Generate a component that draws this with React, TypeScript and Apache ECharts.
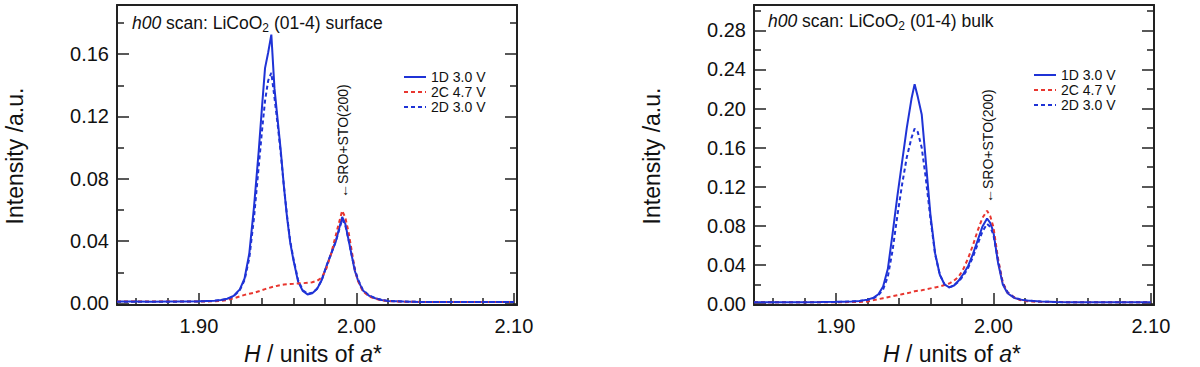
import React, { useEffect, useRef } from 'react';
import * as echarts from 'echarts';

const FONT = '"Liberation Sans", Arial, Helvetica, sans-serif';
const BLUE = '#1f33d6';
const RED = '#e8362f';
const AXIS = '#222';

const SERIES_NAMES = ['1D 3.0 V', '2C 4.7 V', '2D 3.0 V'];

// ---- surface scan (left panel) ----
const H_SURF = [
  1.848, 1.86, 1.87, 1.88, 1.89, 1.9, 1.905, 1.91, 1.914, 1.918,
  1.922, 1.926, 1.929, 1.932, 1.935, 1.938, 1.94, 1.942, 1.944, 1.946,
  1.948, 1.95, 1.952, 1.954, 1.956, 1.958, 1.96, 1.963, 1.966, 1.969,
  1.972, 1.975, 1.978, 1.981, 1.984, 1.987, 1.989, 1.991, 1.993, 1.995,
  1.997, 1.999, 2.001, 2.004, 2.008, 2.012, 2.016, 2.02, 2.03, 2.04,
  2.05, 2.06, 2.07, 2.08, 2.09, 2.1,
];
const SURF_1D = [
  0.0012, 0.0012, 0.0011, 0.0012, 0.0013, 0.0014, 0.0016, 0.0018, 0.0022, 0.003,
  0.0048, 0.009, 0.016, 0.032, 0.062, 0.098, 0.125, 0.151, 0.161, 0.1725,
  0.138, 0.118, 0.098, 0.075, 0.055, 0.039, 0.028, 0.014, 0.008, 0.0058,
  0.0065, 0.0092, 0.015, 0.024, 0.032, 0.04, 0.048, 0.0555, 0.051, 0.041,
  0.031, 0.021, 0.015, 0.0085, 0.005, 0.0033, 0.0022, 0.0016, 0.0012, 0.001,
  0.001, 0.0009, 0.0009, 0.0009, 0.0009, 0.0009,
];
const SURF_2C = [
  0.0012, 0.0012, 0.0012, 0.0012, 0.0012, 0.0012, 0.0013, 0.0014, 0.0016, 0.0022,
  0.0032, 0.0045, 0.0055, 0.0062, 0.0068, 0.0078, 0.0085, 0.0092, 0.0098, 0.0104,
  0.0109, 0.0114, 0.0118, 0.0121, 0.0123, 0.0125, 0.0126, 0.0128, 0.013, 0.0132,
  0.0136, 0.0145, 0.0165, 0.0225, 0.032, 0.044, 0.052, 0.0595, 0.055, 0.046,
  0.034, 0.022, 0.0145, 0.008, 0.0045, 0.003, 0.002, 0.0015, 0.0011, 0.001,
  0.0009, 0.0009, 0.0009, 0.0009, 0.0009, 0.0009,
];
const SURF_2D = [
  0.0011, 0.0011, 0.0011, 0.0011, 0.0012, 0.0013, 0.0015, 0.0017, 0.0021, 0.0029,
  0.0045, 0.0085, 0.015, 0.029, 0.055, 0.088, 0.11, 0.13, 0.143, 0.148,
  0.132, 0.115, 0.096, 0.075, 0.056, 0.04, 0.029, 0.015, 0.0085, 0.0062,
  0.0068, 0.0095, 0.015, 0.024, 0.032, 0.04, 0.047, 0.054, 0.05, 0.041,
  0.031, 0.022, 0.0155, 0.009, 0.0052, 0.0034, 0.0023, 0.0016, 0.0012, 0.001,
  0.001, 0.0009, 0.0009, 0.0009, 0.0009, 0.0009,
];

// ---- bulk scan (right panel) ----
const H_BULK = [
  1.848, 1.86, 1.87, 1.88, 1.89, 1.9, 1.905, 1.91, 1.915, 1.92,
  1.924, 1.927, 1.93, 1.933, 1.936, 1.939, 1.942, 1.945, 1.948, 1.95,
  1.952, 1.9545, 1.957, 1.96, 1.963, 1.966, 1.969, 1.972, 1.975, 1.978,
  1.981, 1.984, 1.987, 1.99, 1.993, 1.996, 1.998, 2.0, 2.003, 2.006,
  2.009, 2.013, 2.017, 2.021, 2.03, 2.04, 2.05, 2.06, 2.07, 2.08,
  2.09, 2.1,
];
const BULK_1D = [
  0.0018, 0.0018, 0.0018, 0.0019, 0.002, 0.0022, 0.0024, 0.0027, 0.0032, 0.0045,
  0.0065, 0.01, 0.018, 0.036, 0.072, 0.11, 0.145, 0.18, 0.21, 0.225,
  0.212, 0.194, 0.148, 0.092, 0.052, 0.03, 0.02, 0.017, 0.019, 0.024,
  0.031, 0.039, 0.051, 0.065, 0.079, 0.0875, 0.083, 0.074, 0.042, 0.02,
  0.011, 0.0065, 0.0045, 0.0035, 0.0025, 0.002, 0.0018, 0.0018, 0.0018, 0.0018,
  0.0018, 0.0018,
];
const BULK_2C = [
  0.0018, 0.0018, 0.0018, 0.0018, 0.0018, 0.0019, 0.0019, 0.002, 0.0021, 0.0025,
  0.004, 0.005, 0.006, 0.007, 0.008, 0.009, 0.01, 0.011, 0.012, 0.013,
  0.0135, 0.014, 0.015, 0.016, 0.017, 0.018, 0.0195, 0.021, 0.024, 0.028,
  0.036, 0.047, 0.06, 0.075, 0.088, 0.0955, 0.09, 0.079, 0.046, 0.022,
  0.012, 0.0072, 0.004, 0.0028, 0.0022, 0.002, 0.0019, 0.0018, 0.0018, 0.0018,
  0.0018, 0.0018,
];
const BULK_2D = [
  0.0017, 0.0017, 0.0017, 0.0018, 0.0019, 0.0021, 0.0023, 0.0026, 0.0031, 0.0042,
  0.006, 0.009, 0.015, 0.028, 0.055, 0.09, 0.122, 0.15, 0.17, 0.1795,
  0.176, 0.16, 0.13, 0.088, 0.051, 0.03, 0.02, 0.017, 0.019, 0.023,
  0.029, 0.037, 0.048, 0.061, 0.074, 0.082, 0.079, 0.071, 0.044, 0.021,
  0.012, 0.007, 0.0047, 0.0036, 0.0025, 0.002, 0.0018, 0.0017, 0.0017, 0.0017,
  0.0017, 0.0017,
];

const X_MIN = 1.848;
const X_MAX = 2.102;
const X_STEP = 0.1;
const Y_STEP = 0.04;
const Y_MIN = -0.001;
const Y_MAX_SURF = 0.1915;
const Y_MAX_BULK = 0.306;

const pairs = (h: number[], v: number[]) => h.map((x, i) => [x, v[i]]);

const onStep = (v: number, step: number) => Math.abs(v / step - Math.round(v / step)) < 1e-6;

function xAxes(gridIndex: number) {
  return [
    {
      gridIndex,
      type: 'value',
      position: 'bottom',
      min: X_MIN,
      max: X_MAX,
      minInterval: X_STEP,
      maxInterval: X_STEP,
      axisLine: { show: true, onZero: false, lineStyle: { color: AXIS, width: 2 } },
      axisTick: { show: true, inside: true, length: 12, lineStyle: { color: AXIS, width: 1.5 } },
      minorTick: { show: true, splitNumber: 5, length: 7, lineStyle: { color: AXIS, width: 1.5 } },
      splitLine: { show: false },
      minorSplitLine: { show: false },
      axisLabel: {
        fontSize: 20,
        color: '#111',
        fontFamily: FONT,
        margin: 11,
        formatter: (v: number) => (onStep(v, X_STEP) ? v.toFixed(2) : ''),
      },
    },
    {
      gridIndex,
      type: 'value',
      position: 'top',
      min: X_MIN,
      max: X_MAX,
      axisLine: { show: true, onZero: false, lineStyle: { color: AXIS, width: 2 } },
      axisTick: { show: false },
      axisLabel: { show: false },
      splitLine: { show: false },
    },
  ];
}

function yAxes(gridIndex: number, max: number) {
  const base = {
    gridIndex,
    type: 'value',
    min: Y_MIN,
    max,
    minInterval: Y_STEP,
    maxInterval: Y_STEP,
    axisLine: { show: true, onZero: false, lineStyle: { color: AXIS, width: 2 } },
    axisTick: { show: true, inside: true, length: 12, lineStyle: { color: AXIS, width: 1.5 } },
    minorTick: { show: true, splitNumber: 2, length: 7, lineStyle: { color: AXIS, width: 1.5 } },
    splitLine: { show: false },
    minorSplitLine: { show: false },
  };
  return [
    {
      ...base,
      position: 'left',
      axisLabel: {
        fontSize: 20,
        color: '#111',
        fontFamily: FONT,
        margin: 8,
        formatter: (v: number) => (onStep(v, Y_STEP) ? v.toFixed(2) : ''),
      },
    },
    { ...base, position: 'right', axisLabel: { show: false } },
  ];
}

function lineSeries(name: string, data: number[][], axisIdx: number, color: string, dashed: boolean) {
  return {
    name,
    type: 'line',
    xAxisIndex: axisIdx,
    yAxisIndex: axisIdx,
    data,
    symbol: 'none',
    showSymbol: false,
    lineStyle: { color, width: 2, type: dashed ? [4, 3] : 'solid' },
    itemStyle: { color },
    emphasis: { disabled: true },
  };
}

function legend(left: number, top: number) {
  return {
    left,
    top,
    orient: 'vertical',
    data: SERIES_NAMES,
    itemWidth: 22,
    itemHeight: 10,
    itemGap: 1,
    selectedMode: false,
    padding: 0,
    itemStyle: { opacity: 0 },
    textStyle: { fontSize: 14, color: '#111', fontFamily: FONT, lineHeight: 13 },
  };
}

function panelTexts(
  label: string,
  titleX: number,
  titleY: number,
  sroX: number,
  sroY: number,
  yTitleX: number,
  xTitleX: number
) {
  return [
    {
      type: 'text',
      x: titleX,
      y: titleY,
      style: {
        text: '{i|h00} scan: LiCoO{sub|2} (01-4) ' + label,
        fontSize: 17.5,
        fontFamily: FONT,
        fill: '#111',
        verticalAlign: 'middle',
        lineHeight: 22,
        rich: {
          i: { fontStyle: 'italic', fontSize: 17.5, fontFamily: FONT, lineHeight: 22 },
          sub: { fontSize: 12, fontFamily: FONT, lineHeight: 12, verticalAlign: 'bottom' },
        },
      },
    },
    {
      type: 'text',
      x: sroX,
      y: sroY,
      rotation: Math.PI / 2,
      style: {
        text: '\u2190SRO+STO(200)',
        fontSize: 14,
        fontFamily: FONT,
        fill: '#111',
        align: 'left',
        verticalAlign: 'middle',
      },
    },
    {
      type: 'text',
      x: yTitleX,
      y: 156,
      rotation: Math.PI / 2,
      style: {
        text: 'Intensity /a.u.',
        fontSize: 23,
        fontFamily: FONT,
        fill: '#111',
        align: 'center',
        verticalAlign: 'middle',
      },
    },
    {
      type: 'text',
      x: xTitleX,
      y: 354,
      style: {
        text: '{i|H} / units of {i|a}*',
        fontSize: 23,
        fontFamily: FONT,
        fill: '#111',
        align: 'center',
        verticalAlign: 'middle',
        rich: { i: { fontStyle: 'italic', fontSize: 23, fontFamily: FONT } },
      },
    },
  ];
}

export default function App() {
  const ref = useRef<HTMLDivElement>(null);

  useEffect(() => {
    if (!ref.current) return;
    const chart = echarts.init(ref.current, undefined, { renderer: 'svg' });
    const option = {
      animation: false,
      backgroundColor: '#ffffff',
      textStyle: { fontFamily: FONT },
      grid: [
        { left: 117, top: 5, width: 400, height: 300 },
        { left: 754, top: 5, width: 400, height: 300 },
      ],
      xAxis: [...xAxes(0), ...xAxes(1)],
      yAxis: [...yAxes(0, Y_MAX_SURF), ...yAxes(1, Y_MAX_BULK)],
      legend: [legend(403, 70), legend(1033, 68)],
      series: [
        lineSeries(SERIES_NAMES[0], pairs(H_SURF, SURF_1D), 0, BLUE, false),
        lineSeries(SERIES_NAMES[1], pairs(H_SURF, SURF_2C), 0, RED, true),
        lineSeries(SERIES_NAMES[2], pairs(H_SURF, SURF_2D), 0, BLUE, true),
        lineSeries(SERIES_NAMES[0], pairs(H_BULK, BULK_1D), 2, BLUE, false),
        lineSeries(SERIES_NAMES[1], pairs(H_BULK, BULK_2C), 2, RED, true),
        lineSeries(SERIES_NAMES[2], pairs(H_BULK, BULK_2D), 2, BLUE, true),
      ],
      graphic: [
        ...panelTexts('surface', 132, 23, 343, 198, 15, 313),
        ...panelTexts('bulk', 768, 21, 988, 203, 652, 952),
      ],
    };
    chart.setOption(option as any);
    return () => chart.dispose();
  }, []);

  return (
    <div
      ref={ref}
      style={{ position: 'fixed', left: 0, top: 0, width: 1200, height: 367, background: '#fff' }}
    />
  );
}
